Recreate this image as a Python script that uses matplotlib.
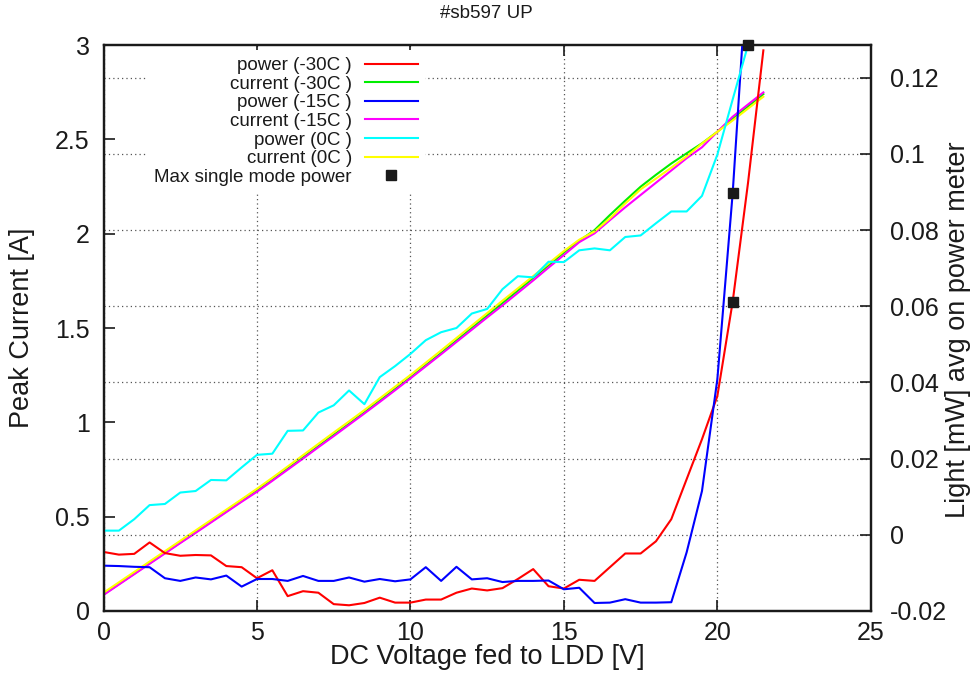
"""Courbes courant / puissance optique en fonction de la tension LDD (#sb597 UP)."""

import matplotlib
matplotlib.use("Agg")
import matplotlib.pyplot as plt
import numpy as np
from matplotlib.ticker import FormatStrFormatter, MultipleLocator

plt.rcParams["font.family"] = ["Liberation Sans", "DejaVu Sans"]

TEXT = "#1a1a1a"

# tension DC (V), pas de 0.5 V
volt_long = np.arange(0, 21.51, 0.5)   # 0 .. 21.5
volt_short = np.arange(0, 21.01, 0.5)  # 0 .. 21

# courant crête [A] (axe de gauche)
current_m30 = [0.088, 0.143, 0.198, 0.253, 0.308, 0.363, 0.418, 0.473, 0.528, 0.583,
               0.638, 0.695, 0.755, 0.814, 0.874, 0.934, 0.993, 1.053, 1.115, 1.177,
               1.238, 1.303, 1.368, 1.434, 1.500, 1.566, 1.632, 1.698, 1.765, 1.832,
               1.900, 1.962, 2.019, 2.099, 2.175, 2.249, 2.312, 2.372, 2.426, 2.479,
               2.540, 2.610, 2.675, 2.740]
current_m15 = [0.085, 0.140, 0.195, 0.250, 0.305, 0.360, 0.414, 0.469, 0.524, 0.579,
               0.632, 0.690, 0.749, 0.808, 0.868, 0.927, 0.987, 1.047, 1.108, 1.170,
               1.233, 1.297, 1.361, 1.426, 1.491, 1.556, 1.620, 1.686, 1.752, 1.820,
               1.887, 1.955, 2.002, 2.072, 2.140, 2.205, 2.270, 2.335, 2.400, 2.458,
               2.540, 2.620, 2.685, 2.749]
current_0 = [0.097, 0.152, 0.207, 0.262, 0.317, 0.372, 0.427, 0.482, 0.537, 0.592,
             0.648, 0.706, 0.766, 0.826, 0.886, 0.946, 1.005, 1.065, 1.127, 1.189,
             1.251, 1.316, 1.381, 1.447, 1.513, 1.579, 1.645, 1.710, 1.775, 1.842,
             1.908, 1.968, 2.012, 2.081, 2.160, 2.235, 2.292, 2.350, 2.410, 2.478,
             2.540, 2.600, 2.663, 2.726]

power_m30 = [-0.0045, -0.0052, -0.0050, -0.0020, -0.0048, -0.0055, -0.0053, -0.0054, -0.0082, -0.0085,
             -0.0114, -0.0093, -0.0161, -0.0148, -0.0152, -0.0182, -0.0185, -0.0179, -0.0165, -0.0178,
             -0.0178, -0.0170, -0.0170, -0.0152, -0.0141, -0.0146, -0.0140, -0.0116, -0.0090, -0.0135,
             -0.0141, -0.0118, -0.0121, -0.0085, -0.0049, -0.0049, -0.0017, 0.0041, 0.0146, 0.0251,
             0.0364, 0.0612, 0.0924, 0.1272]
power_m15 = [-0.0081, -0.0082, -0.0084, -0.0085, -0.0114, -0.0121, -0.0112, -0.0117, -0.0107, -0.0136,
             -0.0116, -0.0116, -0.0121, -0.0108, -0.0121, -0.0121, -0.0112, -0.0123, -0.0116, -0.0122,
             -0.0117, -0.0085, -0.0121, -0.0084, -0.0117, -0.0114, -0.0124, -0.0121, -0.0121, -0.0120,
             -0.0143, -0.0139, -0.0179, -0.0178, -0.0169, -0.0178, -0.0178, -0.0177, -0.0046, 0.0115,
             0.0408, 0.0897, 0.1520]
power_0 = [0.0011, 0.0011, 0.0041, 0.0078, 0.0081, 0.0111, 0.0115, 0.0144, 0.0143, 0.0177,
           0.0210, 0.0213, 0.0273, 0.0274, 0.0321, 0.0340, 0.0379, 0.0343, 0.0414, 0.0443,
           0.0475, 0.0511, 0.0532, 0.0543, 0.0581, 0.0593, 0.0645, 0.0679, 0.0676, 0.0717,
           0.0716, 0.0747, 0.0752, 0.0747, 0.0782, 0.0786, 0.0818, 0.0849, 0.0849, 0.0890,
           0.0998, 0.1143, 0.1286]

# puissance max monomode
max_sm_volt = [20.5, 20.5, 21.0]
max_sm_power = [0.0612, 0.0897, 0.1286]


def main():
    fig = plt.figure(figsize=(9.75, 6.77), dpi=100)
    ax = fig.add_axes([0.1062, 0.0975, 0.7869, 0.8360])
    ax2 = ax.twinx()

    lw = 1.5
    p1, = ax2.plot(volt_long, power_m30, color="#ff0000", lw=lw, label="power (-30C )")
    c1, = ax.plot(volt_long, current_m30, color="#00ee00", lw=lw, label="current (-30C )")
    p2, = ax2.plot(volt_short, power_m15, color="#0000ff", lw=lw, label="power (-15C )")
    c2, = ax.plot(volt_long, current_m15, color="#ff00ff", lw=lw, label="current (-15C )")
    p3, = ax2.plot(volt_short, power_0, color="#00ffff", lw=lw, label="power (0C )")
    c3, = ax.plot(volt_long, current_0, color="#ffff00", lw=lw, label="current (0C )")
    sq, = ax2.plot(max_sm_volt, max_sm_power, ls="none", marker="s", ms=7,
                   color="#1a1a1a", label="Max single mode power", clip_on=False)

    ax.set_xlim(0, 25)
    ax.set_ylim(0, 3)
    ax2.set_ylim(-0.02, 0.1286)

    ax.xaxis.set_major_locator(MultipleLocator(5))
    ax.yaxis.set_major_locator(MultipleLocator(0.5))
    ax2.yaxis.set_major_locator(MultipleLocator(0.02))
    ax.yaxis.set_major_formatter(FormatStrFormatter("%g"))
    ax2.yaxis.set_major_formatter(plt.FuncFormatter(lambda v, p: f"{round(v, 3):g}"))

    ax.tick_params(axis="x", direction="in", length=8, width=1.2, top=True,
                   labelsize=18, pad=7, colors=TEXT)
    ax.tick_params(axis="y", direction="in", length=8, width=1.2, right=False,
                   labelsize=18, pad=10, colors=TEXT)
    ax2.tick_params(axis="y", direction="in", length=8, width=1.2,
                    labelsize=18, pad=14, colors=TEXT)

    grid_style = dict(color="#555555", lw=0.9, ls=(0, (1, 2.5)))
    ax.xaxis.grid(True, **grid_style)
    ax2.yaxis.grid(True, **grid_style)

    for a in (ax, ax2):
        for s in a.spines.values():
            s.set_linewidth(1.6)
            s.set_color(TEXT)

    fig.text(0.4985, 1 - 14 / 677, "#sb597 UP", ha="center", va="center", fontsize=13.5, color=TEXT)
    fig.text(0.4995, 1 - 657 / 677, "DC Voltage fed to LDD [V]", ha="center", va="center",
             fontsize=19.5, color=TEXT)
    fig.text(22 / 975, 1 - 328 / 677, "Peak Current [A]", rotation=90, ha="center", va="center",
             fontsize=19.5, color=TEXT)
    fig.text(958 / 975, 1 - 330 / 677, "Light [mW] avg on power meter", rotation=90,
             ha="center", va="center", fontsize=19.5, color=TEXT)

    handles = [p1, c1, p2, c2, p3, c3, sq]
    leg = ax2.legend(handles=handles, loc="upper right",
                     bbox_to_anchor=(425 / 975, 1 - 49.5 / 677), bbox_transform=fig.transFigure,
                     borderaxespad=0, borderpad=0.4, fontsize=13.5, markerfirst=False,
                     handlelength=2.8, handletextpad=0.7, labelspacing=0.08,
                     frameon=True, fancybox=False, framealpha=1)
    leg.get_frame().set_edgecolor("none")
    leg.get_frame().set_facecolor("white")
    for t in leg.get_texts():
        t.set_color(TEXT)

    fig.savefig("out.png", dpi=100)
    plt.close(fig)


if __name__ == "__main__":
    main()
